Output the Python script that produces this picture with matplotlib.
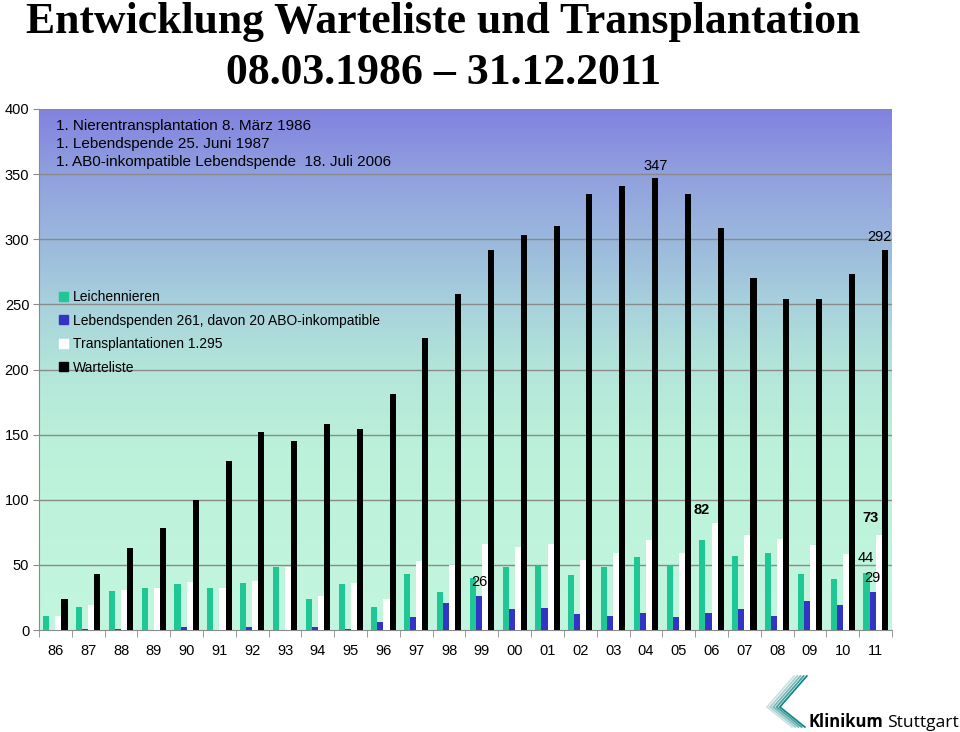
import matplotlib.pyplot as plt
import numpy as np
from matplotlib.colors import LinearSegmentedColormap
from matplotlib.patches import Patch

plt.rcParams["font.family"] = ["Liberation Sans", "DejaVu Sans"]

jahre = ["86", "87", "88", "89", "90", "91", "92", "93", "94", "95", "96", "97", "98",
         "99", "00", "01", "02", "03", "04", "05", "06", "07", "08", "09", "10", "11"]
leichennieren = [11, 18, 30, 32, 35, 32, 36, 48, 24, 35, 18, 43, 29,
                 40, 48, 49, 42, 48, 56, 49, 69, 57, 59, 43, 39, 44]
lebendspenden = [0, 1, 1, 0, 2, 0, 2, 0, 2, 1, 6, 10, 21,
                 26, 16, 17, 12, 11, 13, 10, 13, 16, 11, 22, 19, 29]
transplantationen = [11, 19, 31, 32, 37, 32, 38, 48, 26, 36, 24, 53, 50,
                     66, 64, 66, 54, 59, 69, 59, 82, 73, 70, 65, 58, 73]
warteliste = [24, 43, 63, 78, 100, 130, 152, 145, 158, 154, 181, 224, 258,
              292, 303, 310, 335, 341, 347, 335, 309, 270, 254, 254, 273, 292]

info_zeilen = [
    "1. Nierentransplantation 8. März 1986",
    "1. Lebendspende 25. Juni 1987",
    "1. AB0-inkompatible Lebendspende  18. Juli 2006",
]

COR_LEICHE = "#1fc795"
COR_LEBEND = "#3434c4"
COR_TX = "#ffffff"
COR_WARTE = "#000000"
COR_GRID = "#8a8a8a"

fig = plt.figure(figsize=(9.6, 7.32), dpi=100)
ax = fig.add_axes([39 / 960, 1 - 630 / 732, 853 / 960, 521 / 732])

# hintergrund: verlauf von mint (unten) nach violett (oben)
grad = LinearSegmentedColormap.from_list(
    "bg",
    [(0.0, "#c3f6de"), (0.35, "#bbf1da"), (0.5, "#b3e6d9"),
     (0.62, "#a8d2dc"), (0.75, "#9bb8dd"), (0.88, "#909fde"), (1.0, "#8282e0")],
)
n = len(jahre)
ax.imshow(np.linspace(0, 1, 256).reshape(-1, 1), cmap=grad, aspect="auto",
          extent=(-0.5, n - 0.5, 0, 400), origin="lower", zorder=0)

x = np.arange(n)
w = 0.185
ax.bar(x - 1.5 * w, leichennieren, w, color=COR_LEICHE, zorder=3)
ax.bar(x - 0.5 * w, lebendspenden, w, color=COR_LEBEND, zorder=3)
ax.bar(x + 0.5 * w, transplantationen, w, color=COR_TX, zorder=3)
ax.bar(x + 1.5 * w, warteliste, w, color=COR_WARTE, zorder=3)

ax.set_xlim(-0.5, n - 0.5)
ax.set_ylim(0, 400)
ax.set_yticks(range(0, 401, 50))
for yv in range(50, 401, 50):
    ax.axhline(yv, color=COR_GRID, lw=1, zorder=1)

ax.set_xticks(x)
ax.set_xticklabels(jahre)
ax.set_xticks(np.arange(-0.5, n, 1), minor=True)
ax.tick_params(axis="x", which="major", length=0, pad=10, labelsize=10.5)
ax.tick_params(axis="x", which="minor", length=5, color=COR_GRID, direction="out")
ax.tick_params(axis="y", length=4, color=COR_GRID, labelsize=10.5, pad=3)
for side in ["top", "right"]:
    ax.spines[side].set_visible(False)
for side in ["left", "bottom"]:
    ax.spines[side].set_color(COR_GRID)

# info text
for i, zeile in enumerate(info_zeilen):
    ax.text(0.02, 0.968 - i * 0.0345, zeile, transform=ax.transAxes,
            fontsize=11, va="center", ha="left")

handles = [
    Patch(color=COR_LEICHE, label="Leichennieren"),
    Patch(color=COR_LEBEND, label="Lebendspenden 261, davon 20 ABO-inkompatible"),
    Patch(color=COR_TX, label="Transplantationen 1.295"),
    Patch(color=COR_WARTE, label="Warteliste"),
]
ax.legend(handles=handles, loc="upper left", bbox_to_anchor=(0.024, 0.652),
          frameon=False, handlelength=0.6, handleheight=0.6,
          handletextpad=0.35, labelspacing=0.68, borderpad=0, borderaxespad=0,
          prop={"size": 10})

# werte-beschriftungen
ax.text(18 + 0.3, 351, "347", ha="center", va="bottom", fontsize=10.5, zorder=5)
ax.text(25.5, 296, "292", ha="right", va="bottom", fontsize=10.5, zorder=5)
ax.text(13 - 0.085, 37, "26", ha="center", va="center", fontsize=10.5, zorder=5)
ax.text(20 - 0.29, 92, "82", ha="center", va="center", fontsize=10.5,
        fontweight="bold", zorder=5)
ax.text(25 - 0.165, 86, "73", ha="center", va="center", fontsize=10.5,
        fontweight="bold", zorder=5)
ax.text(25 - 0.29, 55, "44", ha="center", va="center", fontsize=10.5, zorder=5)
ax.text(25 - 0.1, 40, "29", ha="center", va="center", fontsize=10.5, zorder=5)

# titel
fig.text(443 / 960, 1 - 33 / 732, "Entwicklung Warteliste und Transplantation",
         ha="center", va="baseline", fontsize=31.5, fontweight="bold",
         family="Liberation Serif")
fig.text(444 / 960, 1 - 84 / 732, "08.03.1986 – 31.12.2011",
         ha="center", va="baseline", fontsize=31.5, fontweight="bold",
         family="Liberation Serif")

# logo
lax = fig.add_axes([760 / 960, 0, 50 / 960, 62 / 732])
lax.set_xlim(760, 810)
lax.set_ylim(732, 670)
lax.axis("off")
logo_farben = ["#cfe2e2", "#a9cfcf", "#7ab8b8", "#45a0a0", "#108787"]
for k, c in enumerate(logo_farben):
    dx = k * 3.2
    lax.plot([794 + dx, 767 + dx, 792 + dx], [676, 707, 727],
             color=c, lw=1.3, solid_joinstyle="miter")
fig.text(808 / 960, 1 - 727 / 732, "Klinikum", ha="left", va="baseline",
         fontsize=12, fontweight="bold", family="Open Sans")
fig.text(887 / 960, 1 - 727 / 732, "Stuttgart", ha="left", va="baseline",
         fontsize=12.6, family="Open Sans")

fig.savefig("out.png", dpi=100)
